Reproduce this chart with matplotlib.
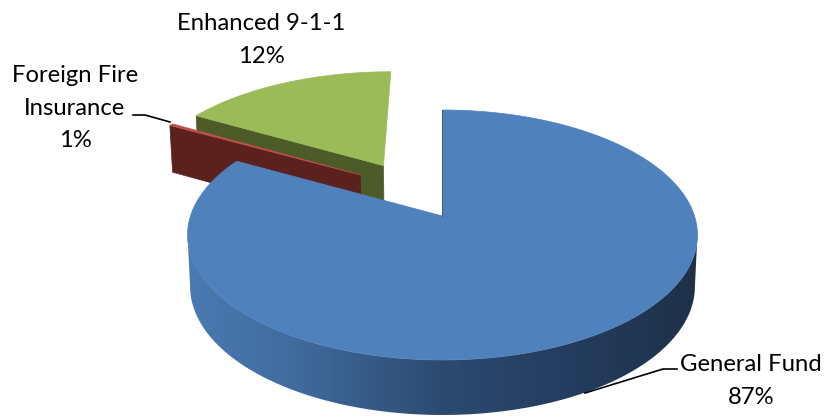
import numpy as np
import matplotlib
matplotlib.use("Agg")
import matplotlib.pyplot as plt
from matplotlib.patches import Polygon
from matplotlib.colors import LinearSegmentedColormap

# Data: drawn slice shares differ from the printed labels
categories = ["General Fund", "Foreign Fire\nInsurance", "Enhanced 9-1-1"]
label_percents = ["87%", "1%", "12%"]
slice_shares = [83.0, 0.3, 16.7]
explode_u = [0.0, -0.343, -0.25]
explode_v = [0.0, -0.354, -0.44]
top_colors = ["#4F81BD", "#C0504D", "#9BBB59"]
wall_colors = ["#2C4A70", "#5A211F", "#4C5B27"]

# Projection of the tilted pie onto the canvas (pixels)
CX, CY = 442.5, 216.0
BX, BY, K = 252.0, 122.1, -0.152


def project(u, v, lower=False):
    u, v = np.asarray(u, float), np.asarray(v, float)
    w = 1 + K * v
    x = BX * u / w
    y = BY * v / w
    if lower:
        x = x * 0.99
        y = y + 50.5 + 4.5 * v
    return CX + x, CY + y


def rim(theta_deg, eu=0.0, ev=0.0):
    t = np.radians(theta_deg)
    return eu + np.sin(t), ev - np.cos(t)


def xy(u, v, lower=False):
    x, y = project(u, v, lower)
    return np.column_stack([np.atleast_1d(x), np.atleast_1d(y)])


fig = plt.figure(figsize=(8.28, 4.17), dpi=100)
ax = fig.add_axes([0, 0, 1, 1])
ax.set_xlim(0, 828)
ax.set_ylim(417, 0)
ax.axis("off")

edges = np.cumsum([0] + slice_shares) * 3.6
spans = list(zip(edges[:-1], edges[1:]))

# Exploded slices, back to front: wall along the leading edge, then the top
for i in (2, 1):
    a, b = spans[i]
    eu, ev = explode_u[i], explode_v[i]
    ru, rv = rim(a, eu, ev)
    wall = np.vstack([xy(eu, ev), xy(ru, rv), xy(ru, rv, True), xy(eu, ev, True)])
    ax.add_patch(Polygon(wall, closed=True, fc=wall_colors[i], ec=wall_colors[i], lw=0.5))
    th = np.linspace(a, b, 80)
    au, av = rim(th, eu, ev)
    top = np.vstack([xy(eu, ev), xy(au, av)])
    ax.add_patch(Polygon(top, closed=True, fc=top_colors[i], ec=top_colors[i], lw=0.5))

# Main slice: outer wall with horizontal shading, clipped to the wall's outline
shade = LinearSegmentedColormap.from_list(
    "side",
    [(0.0, "#4A7AB2"), (0.22, "#3F6A9C"), (0.5, "#2C4A70"),
     (0.74, "#243D5F"), (1.0, "#1E3148")],
)
a, b = spans[0]
th = np.linspace(0, b, 1500)
su, sv = rim(th)
rim_x = xy(su, sv)[:, 0]
front = th[np.argmax(rim_x):np.argmin(rim_x) + 1]
su, sv = rim(front)
outline = np.vstack([xy(su, sv), xy(su, sv, True)[::-1]])
clip = Polygon(outline, closed=True, fc="none", ec="none", transform=ax.transData)
ax.add_patch(clip)
xmin, xmax = outline[:, 0].min(), outline[:, 0].max()
img = ax.imshow(np.linspace(0, 1, 512)[None, :], cmap=shade, aspect="auto",
                extent=(xmin, xmax, outline[:, 1].max(), outline[:, 1].min()),
                interpolation="bilinear", zorder=1)
img.set_clip_path(clip)
ax.set_xlim(0, 828)
ax.set_ylim(417, 0)

th = np.linspace(a, b, 400)
au, av = rim(th)
top = np.vstack([xy(0, 0), xy(au, av)])
ax.add_patch(Polygon(top, closed=True, fc=top_colors[0], ec=top_colors[0], lw=0.5, zorder=2))
ru, rv = rim(0.0)
ax.plot(*zip(xy(0, 0)[0], xy(ru, rv)[0]), color=wall_colors[0], lw=0.7, alpha=0.8, zorder=3)

# Leader lines
ax.plot([677, 663, 585], [369, 369, 393], color="black", lw=1.2, zorder=3)
ax.plot([133, 145, 170], [115, 115, 122], color="black", lw=1.2, zorder=3)

# Labels
font = dict(family="Lato", fontsize=17.2, color="black", ha="center", va="center",
            linespacing=1.65, zorder=4)
ax.text(751, 381, f"{categories[0]}\n{label_percents[0]}", **font)
ax.text(75, 108, f"{categories[1]}\n{label_percents[1]}", **font)
ax.text(261, 40, f"{categories[2]}\n{label_percents[2]}", **font)

fig.savefig("out.png", dpi=100)
